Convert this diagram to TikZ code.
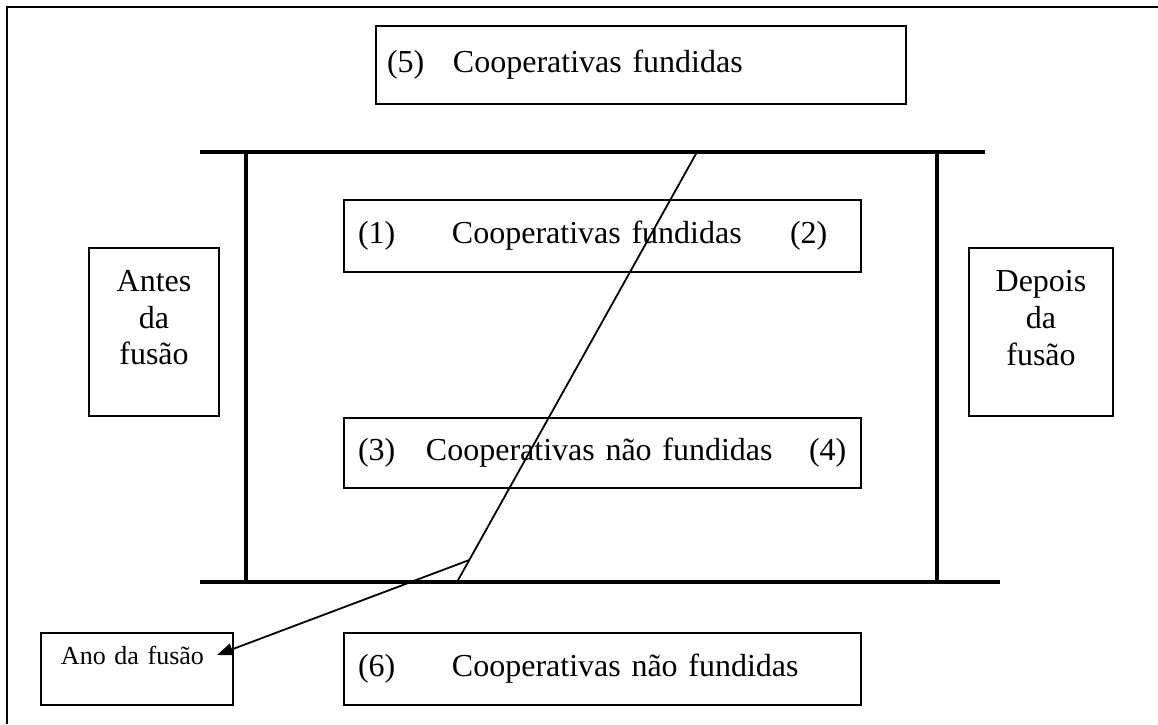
\documentclass[tikz,border=0pt]{standalone}
\usepackage{fontspec}
\setmainfont{Liberation Serif}
\usetikzlibrary{arrows.meta, positioning}

\tikzset{
  box/.style={draw, line width=1pt, inner ysep=0pt, anchor=north west,
              font=\fontsize{16}{18.4}\selectfont},
  coopbox/.style={box, align=left, inner xsep=7pt, text width=244.5pt, minimum height=#1},
  sidebox/.style={box, align=center, minimum height=84pt},
  bar/.style={line width=2.2pt},
}

\begin{document}
\begin{tikzpicture}[x=0.5pt, y=-0.5pt]
  \useasboundingbox (0,0) rectangle (1158,724);
  \draw[line width=1.2pt] (7,724) -- (7,7) -- (1158,7);

  \node[box, align=left, inner xsep=5.5pt, text width=254pt, minimum height=39pt]
    (fund5) at (375,25) {\makebox[33pt][l]{(5)}Cooperativas fundidas};

  \draw[bar] (200,152) -- (985,152);
  \draw[bar] (200,582) -- (1000,582);
  \draw[bar] (246,152) -- (246,582);
  \draw[bar] (937,152) -- (937,582);

  \node[coopbox=36pt] (fund12) at (343,199)
    {\makebox[47pt][l]{(1)}\makebox[169pt][l]{Cooperativas fundidas}(2)};
  \node[coopbox=35pt] (naofund34) at (343,417)
    {\makebox[34pt][l]{(3)}\makebox[191.5pt][l]{Cooperativas não fundidas}(4)};
  \node[coopbox=36pt] (naofund6) at (343,632)
    {\makebox[47pt][l]{(6)}Cooperativas não fundidas};

  \node[sidebox, minimum width=65pt] (antes) at (88,247) {Antes\\da\\fusão\\[-4pt]\mbox{}};
  \node[sidebox, minimum width=72pt] (depois) at (968,247) {Depois\\da\\fusão\\[-4pt]\mbox{}};

  \node[box, align=left, inner xsep=10pt, text width=76pt, minimum height=36pt,
        font=\fontsize{13}{15.6}\selectfont] (ano) at (40,632) {Ano da fusão\\[-2pt]\mbox{}};

  \coordinate (slTop) at (697,152);
  \coordinate (slBot) at (457,582);
  \coordinate (kink) at (469.3,560);
  \coordinate (anoTip) at (217,655);
  \draw[line width=0.9pt] (slTop) -- (slBot);
  \draw[line width=0.9pt, -{Triangle[length=8pt, width=6pt]}] (kink) -- (anoTip);
\end{tikzpicture}
\end{document}
